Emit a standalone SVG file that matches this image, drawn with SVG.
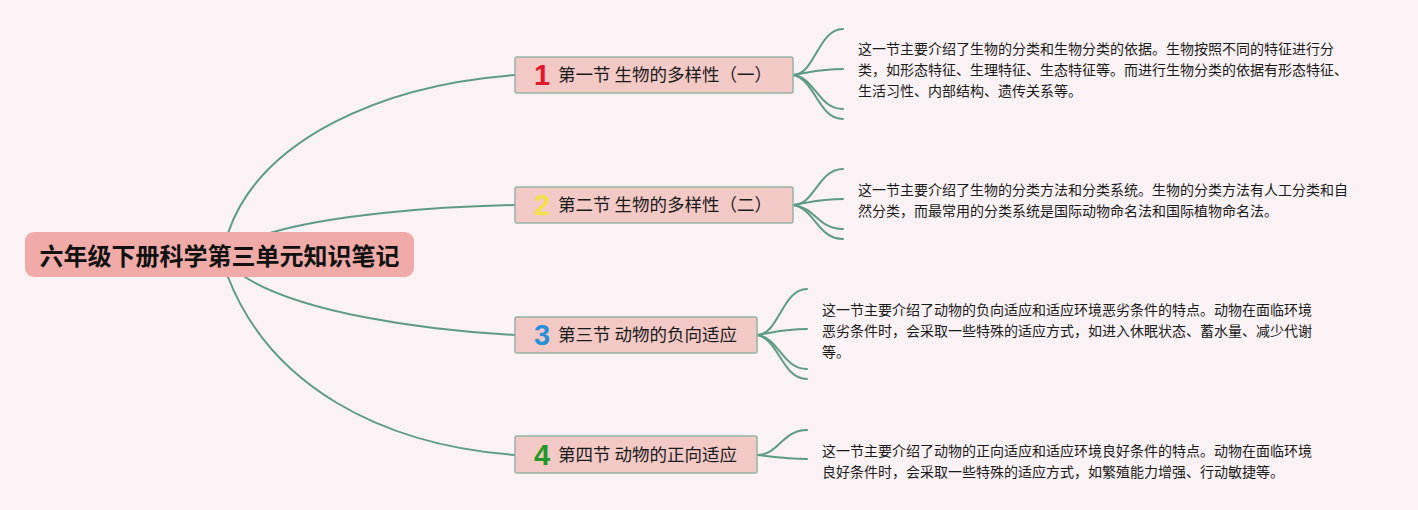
<svg xmlns="http://www.w3.org/2000/svg" width="1418" height="510" viewBox="0 0 1418 510">
<style>
.bg{fill:#faf2f4}
.root{fill:#f0aba8}
.rt{font-family:"Noto Sans CJK SC","Noto Sans",sans-serif;font-size:24px;font-weight:bold;fill:#111}
.box{fill:#f3c9c5;stroke:#95b3a6;stroke-width:1.5}
.lbl{font-family:"Noto Sans CJK SC","Noto Sans",sans-serif;font-size:17.5px;fill:#1a1a1a}
.num{font-family:"Liberation Sans","Noto Sans",sans-serif;font-size:29px;font-weight:bold;text-anchor:middle}
.desc{font-family:"Noto Sans CJK SC","Noto Sans",sans-serif;font-size:14px;fill:#1a1a1a}
.con{fill:none;stroke:#5e9b85;stroke-width:2;stroke-linecap:round}
</style>
<rect class="bg" x="0" y="0" width="1418" height="510"/>
<g id="connectors">
<path class="con" d="M228,233 C260,140 380,85 515,75"/>
<path class="con" d="M270,233 C330,215 430,207 515,205"/>
<path class="con" d="M245,277 C300,312 420,330 515,335"/>
<path class="con" d="M228,277 C270,385 380,445 515,455"/>
<path class="con" d="M793,75 C815,75 818,29 843,29"/>
<path class="con" d="M793,75 C812,72 820,69 843,69"/>
<path class="con" d="M793,75 C815,77 818,109 843,109"/>
<path class="con" d="M793,75 C815,79 818,119 843,119"/>
<path class="con" d="M793,205 C815,205 818,169 843,169"/>
<path class="con" d="M793,205 C812,202 820,199 843,199"/>
<path class="con" d="M793,205 C815,207 818,229 843,229"/>
<path class="con" d="M793,205 C815,209 818,239 843,239"/>
<path class="con" d="M757,335 C779,335 782,289 807,289"/>
<path class="con" d="M757,335 C776,332 784,329 807,329"/>
<path class="con" d="M757,335 C779,337 782,369 807,369"/>
<path class="con" d="M757,335 C779,339 782,379 807,379"/>
<path class="con" d="M757,455 C779,455 782,430 807,430"/>
<path class="con" d="M757,455 C776,457 784,459 807,459"/>
</g>
<g id="root">
<rect class="root" x="25" y="232" width="389" height="45" rx="9"/>
<text class="rt" x="219.5" y="265" text-anchor="middle">六年级下册科学第三单元知识笔记</text>
</g>
<g id="node1">
<rect class="box" x="515" y="57" width="278" height="36" rx="2"/>
<text class="num" x="542" y="85" fill="#e0182d">1</text>
<text class="lbl" x="558" y="81">第一节 生物的多样性（一）</text>
</g>
<g id="node2">
<rect class="box" x="515" y="187" width="278" height="36" rx="2"/>
<text class="num" x="542" y="215" fill="#f3df48">2</text>
<text class="lbl" x="558" y="211">第二节 生物的多样性（二）</text>
</g>
<g id="node3">
<rect class="box" x="515" y="317" width="242" height="36" rx="2"/>
<text class="num" x="542" y="345" fill="#2a8fd8">3</text>
<text class="lbl" x="558" y="341">第三节 动物的负向适应</text>
</g>
<g id="node4">
<rect class="box" x="515" y="436" width="242" height="37" rx="2"/>
<text class="num" x="542" y="465" fill="#22982a">4</text>
<text class="lbl" x="558" y="461">第四节 动物的正向适应</text>
</g>
<g id="desc1">
<text class="desc" x="858" y="54">这一节主要介绍了生物的分类和生物分类的依据。生物按照不同的特征进行分</text>
<text class="desc" x="858" y="75">类，如形态特征、生理特征、生态特征等。而进行生物分类的依据有形态特征、</text>
<text class="desc" x="858" y="96">生活习性、内部结构、遗传关系等。</text>
</g>
<g id="desc2">
<text class="desc" x="858" y="195">这一节主要介绍了生物的分类方法和分类系统。生物的分类方法有人工分类和自</text>
<text class="desc" x="858" y="216">然分类，而最常用的分类系统是国际动物命名法和国际植物命名法。</text>
</g>
<g id="desc3">
<text class="desc" x="822" y="315">这一节主要介绍了动物的负向适应和适应环境恶劣条件的特点。动物在面临环境</text>
<text class="desc" x="822" y="336">恶劣条件时，会采取一些特殊的适应方式，如进入休眠状态、蓄水量、减少代谢</text>
<text class="desc" x="822" y="357">等。</text>
</g>
<g id="desc4">
<text class="desc" x="822" y="456">这一节主要介绍了动物的正向适应和适应环境良好条件的特点。动物在面临环境</text>
<text class="desc" x="822" y="477">良好条件时，会采取一些特殊的适应方式，如繁殖能力增强、行动敏捷等。</text>
</g>
</svg>
